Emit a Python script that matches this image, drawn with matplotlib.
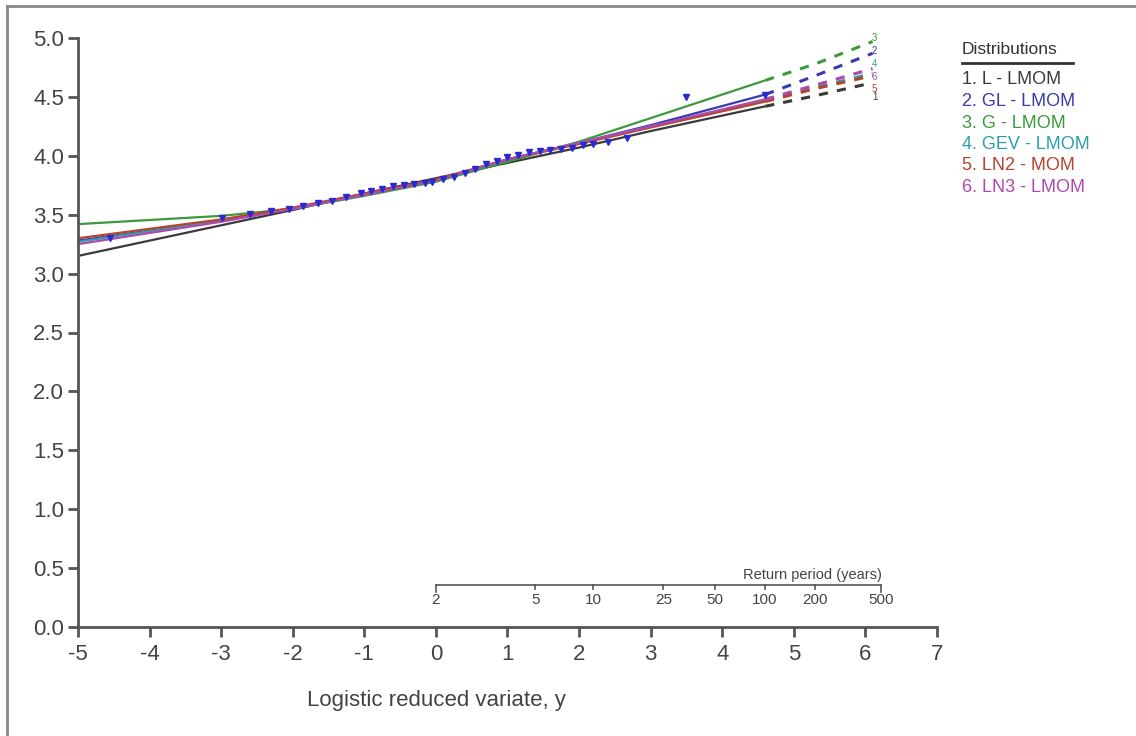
import numpy as np
import matplotlib
matplotlib.use("Agg")
import matplotlib.pyplot as plt
from matplotlib.lines import Line2D

plt.rcParams['font.family'] = ['Liberation Sans', 'DejaVu Sans']

# ---- data ----
knots_solid = [-5, -3, -2, -1, 0, 1, 2, 3, 4.6]
knots_dash = [4.6, 5.3, 6.1]

names = ["1. L - LMOM", "2. GL - LMOM", "3. G - LMOM", "4. GEV - LMOM", "5. LN2 - MOM", "6. LN3 - LMOM"]
colors = ["#3a3a3a", "#3a3ab0", "#3c9a3c", "#2fa0a8", "#b8442c", "#b048b0"]

L_solid = [3.15, 3.41, 3.54, 3.68, 3.81, 3.94, 4.07, 4.21, 4.42]
L_dash = [4.42, 4.51, 4.62]
GL_solid = [3.28, 3.45, 3.55, 3.67, 3.79, 3.97, 4.11, 4.26, 4.52]
GL_dash = [4.52, 4.68, 4.87]
G_solid = [3.42, 3.49, 3.55, 3.66, 3.78, 3.95, 4.12, 4.32, 4.64]
G_dash = [4.64, 4.78, 4.97]
GEV_solid = [3.27, 3.45, 3.55, 3.67, 3.79, 3.97, 4.11, 4.25, 4.47]
GEV_dash = [4.47, 4.58, 4.70]
LN2_solid = [3.30, 3.46, 3.56, 3.68, 3.80, 3.97, 4.10, 4.24, 4.46]
LN2_dash = [4.46, 4.57, 4.68]
LN3_solid = [3.25, 3.44, 3.55, 3.67, 3.79, 3.97, 4.11, 4.25, 4.48]
LN3_dash = [4.48, 4.60, 4.74]

solids = [L_solid, GL_solid, G_solid, GEV_solid, LN2_solid, LN3_solid]
dashes = [L_dash, GL_dash, G_dash, GEV_dash, LN2_dash, LN3_dash]
end_labels = ["1", "2", "3", "4", "5", "6"]
end_label_y = [4.50, 4.89, 5.00, 4.78, 4.57, 4.67]

obs_x = [-4.55, -2.99, -2.6, -2.3, -2.05, -1.85, -1.65, -1.45, -1.25, -1.05, -0.9, -0.75,
         -0.6, -0.45, -0.3, -0.15, -0.05, 0.1, 0.25, 0.4, 0.55, 0.7, 0.85, 1.0, 1.15, 1.3,
         1.45, 1.6, 1.75, 1.9, 2.05, 2.2, 2.4, 2.67, 3.5, 4.6]
obs_y = [3.30, 3.47, 3.51, 3.53, 3.55, 3.57, 3.60, 3.62, 3.65, 3.68, 3.70, 3.72,
         3.74, 3.75, 3.76, 3.77, 3.78, 3.80, 3.82, 3.85, 3.89, 3.93, 3.96, 3.99, 4.01, 4.03,
         4.04, 4.05, 4.06, 4.07, 4.09, 4.10, 4.12, 4.15, 4.50, 4.52]

return_periods = [2, 5, 10, 25, 50, 100, 200, 500]
xticks = [-5, -4, -3, -2, -1, 0, 1, 2, 3, 4, 5, 6, 7]
yticks = [0.0, 0.5, 1.0, 1.5, 2.0, 2.5, 3.0, 3.5, 4.0, 4.5, 5.0]

# ---- figure ----
fig = plt.figure(figsize=(11.36, 7.36), dpi=100)
ax = fig.add_axes([78/1136, 1 - 627/736, (937 - 78)/1136, (627 - 38)/736])
ax.set_xlim(-5, 7)
ax.set_ylim(0, 5)
for s in ["top", "right"]:
    ax.spines[s].set_visible(False)
for s in ["left", "bottom"]:
    ax.spines[s].set_color("#555555")
    ax.spines[s].set_linewidth(2)
ax.set_xticks(xticks)
ax.set_xticklabels([str(v) for v in xticks])
ax.set_yticks(yticks)
ax.set_yticklabels([f"{v:.1f}" for v in yticks])
ax.tick_params(axis="both", labelsize=16, colors="#555555", labelcolor="#444444", width=2, length=7)
ax.tick_params(axis="x", pad=5)
ax.tick_params(axis="y", pad=3)
ax.set_xlabel("Logistic reduced variate, y", fontsize=16, color="#444444")
ax.xaxis.set_label_coords((436 - 78) / (937 - 78), -(690 - 627) / (627 - 38))

for sol, das, c in zip(solids, dashes, colors):
    ax.plot(knots_solid, sol, color=c, lw=1.6, solid_capstyle="butt")
    ax.plot(knots_dash, das, color=c, lw=2.2, ls=(0, (3, 3)))

ax.plot(obs_x, obs_y, ls="none", marker="v", ms=5, color="#2a2ad0", zorder=5)

for lab, ly, c in zip(end_labels, end_label_y, colors):
    ax.text(6.13, ly, lab, fontsize=7, color=c, ha="center", va="center")

# return-period axis
ry = 0.357
rx = [np.log(T - 1) for T in return_periods]
ax.plot([rx[0], rx[-1]], [ry, ry], color="#555555", lw=1.2, clip_on=False)
for i, (T, x) in enumerate(zip(return_periods, rx)):
    ln = 0.06 if i in (0, len(rx) - 1) else 0.035
    ax.plot([x, x], [ry, ry - ln], color="#555555", lw=1.2)
    ax.text(x, ry - 0.07, str(T), fontsize=11, color="#444444", ha="center", va="top")
ax.text(rx[-1] + 0.02, ry + 0.025, "Return period (years)", fontsize=10.5, color="#444444",
        ha="right", va="bottom")

# legend
fig.text(962/1136, 1 - 50/736, "Distributions", fontsize=12.5, color="#333333", va="center")
fig.add_artist(Line2D([962/1136, 1073/1136], [1 - 63/736] * 2, color="#333333", lw=2))
for i, (n, c) in enumerate(zip(names, colors)):
    fig.text(962/1136, 1 - (80 + 21.5 * i)/736, n, fontsize=13, color=c, va="center")

# frame
fig.add_artist(Line2D([7/1136, 7/1136], [0, 1 - 6/736], color="#888888", lw=2))
fig.add_artist(Line2D([7/1136, 1], [1 - 6/736] * 2, color="#888888", lw=2))

fig.savefig("out.png", dpi=100)
